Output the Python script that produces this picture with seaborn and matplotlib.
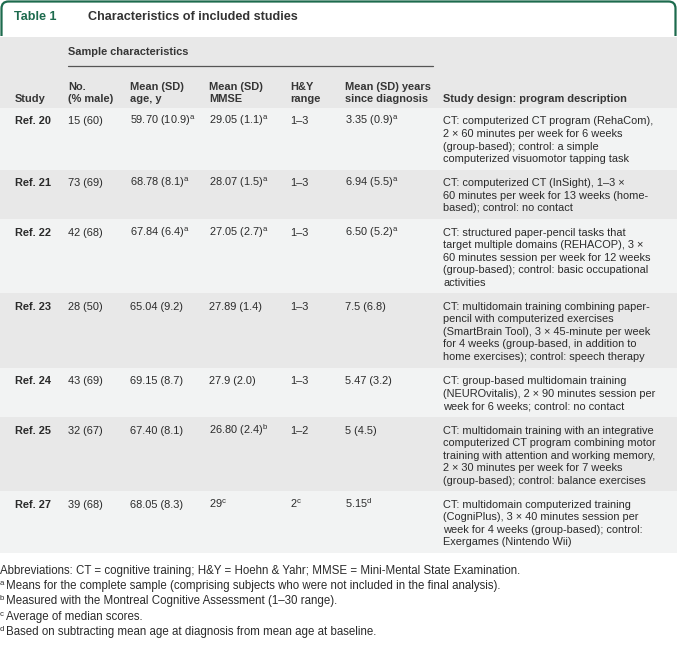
import matplotlib
matplotlib.use("Agg")
import matplotlib.pyplot as plt
from matplotlib.path import Path
from matplotlib.patches import PathPatch
import seaborn as sns

# ---- table content ----
studies = ["Ref. 20", "Ref. 21", "Ref. 22", "Ref. 23", "Ref. 24", "Ref. 25", "Ref. 27"]
n_male = ["15 (60)", "73 (69)", "42 (68)", "28 (50)", "43 (69)", "32 (67)", "39 (68)"]
age = ["59.70 (10.9)^a", "68.78 (8.1)^a", "67.84 (6.4)^a", "65.04 (9.2)",
       "69.15 (8.7)", "67.40 (8.1)", "68.05 (8.3)"]
mmse = ["29.05 (1.1)^a", "28.07 (1.5)^a", "27.05 (2.7)^a", "27.89 (1.4)",
        "27.9 (2.0)", "26.80 (2.4)^b", "29^c"]
hy_range = ["1–3", "1–3", "1–3", "1–3", "1–3", "1–2", "2^c"]
years = ["3.35 (0.9)^a", "6.94 (5.5)^a", "6.50 (5.2)^a", "7.5 (6.8)",
         "5.47 (3.2)", "5 (4.5)", "5.15^d"]
design = [
    ["CT: computerized CT program (RehaCom),",
     "2 × 60 minutes per week for 6 weeks",
     "(group-based); control: a simple",
     "computerized visuomotor tapping task"],
    ["CT: computerized CT (InSight), 1–3 ×",
     "60 minutes per week for 13 weeks (home-",
     "based); control: no contact"],
    ["CT: structured paper-pencil tasks that",
     "target multiple domains (REHACOP), 3 ×",
     "60 minutes session per week for 12 weeks",
     "(group-based); control: basic occupational",
     "activities"],
    ["CT: multidomain training combining paper-",
     "pencil with computerized exercises",
     "(SmartBrain Tool), 3 × 45-minute per week",
     "for 4 weeks (group-based, in addition to",
     "home exercises); control: speech therapy"],
    ["CT: group-based multidomain training",
     "(NEUROvitalis), 2 × 90 minutes session per",
     "week for 6 weeks; control: no contact"],
    ["CT: multidomain training with an integrative",
     "computerized CT program combining motor",
     "training with attention and working memory,",
     "2 × 30 minutes per week for 7 weeks",
     "(group-based); control: balance exercises"],
    ["CT: multidomain computerized training",
     "(CogniPlus), 3 × 40 minutes session per",
     "week for 4 weeks (group-based); control:",
     "Exergames (Nintendo Wii)"],
]
headers = [["", "Study"], ["No.", "(% male)"], ["Mean (SD)", "age, y"],
           ["Mean (SD)", "MMSE"], ["H&Y", "range"],
           ["Mean (SD) years", "since diagnosis"],
           ["", "Study design: program description"]]
note_marks = ["", "a", "b", "c", "d"]
notes = [
    "Abbreviations: CT = cognitive training; H&Y = Hoehn & Yahr; MMSE = Mini-Mental State Examination.",
    "Means for the complete sample (comprising subjects who were not included in the final analysis).",
    "Measured with the Montreal Cognitive Assessment (1–30 range).",
    "Average of median scores.",
    "Based on subtracting mean age at diagnosis from mean age at baseline.",
]

# ---- style ----
sns.set_theme(style="white")
plt.rcParams["font.family"] = ["Liberation Sans", "DejaVu Sans"]
plt.rcParams["mathtext.fontset"] = "custom"
plt.rcParams["mathtext.rm"] = "Liberation Sans"
plt.rcParams["mathtext.it"] = "Liberation Sans:italic"
plt.rcParams["mathtext.bf"] = "Liberation Sans:bold"

GREEN = "#1d6b4e"
TEXT = "#2b2b2b"
HEAD_TEXT = "#363636"
HEAD_BG = "#e8e8e8"
ROW_BG = ["#f2f3f3", "#e8e8e8"]

col_x = [15, 68, 130, 209, 290, 345, 443]
LINE_H = 12.5
ROW_PAD = 11.8
BODY_SIZE = 7.95


def sup(s):
    if "^" in s:
        base, mark = s.split("^", 1)
        return base + r"$^{\mathrm{" + mark + "}}$"
    return s


fig = plt.figure(figsize=(6.77, 6.45), dpi=100)
ax = fig.add_axes([0, 0, 1, 1])
ax.set_xlim(0, 677)
ax.set_ylim(645, 0)
ax.axis("off")

# green rounded frame around title
r = 7
x0, x1, yt, yb = 1.5, 675.5, 1.5, 36
verts = [(x0, yb), (x0, yt + r), (x0, yt), (x0 + r, yt), (x1 - r, yt),
         (x1, yt), (x1, yt + r), (x1, yb)]
codes = [Path.MOVETO, Path.LINETO, Path.CURVE3, Path.CURVE3, Path.LINETO,
         Path.CURVE3, Path.CURVE3, Path.LINETO]
ax.add_patch(PathPatch(Path(verts, codes), fill=False, edgecolor=GREEN, lw=1.6))
ax.text(14, 17.5, "Table 1", color=GREEN, fontsize=9.1, fontweight="bold", va="center")
ax.text(88, 17.5, "Characteristics of included studies", color="#333333",
        fontsize=9.1, fontweight="bold", va="center")

# header
ax.axhspan(37, 108, color=HEAD_BG, lw=0)
ax.text(col_x[1], 52, "Sample characteristics", color=HEAD_TEXT, fontsize=BODY_SIZE,
        fontweight="bold", va="center")
ax.plot([col_x[1], 433], [65.5, 65.5], color="#555555", lw=0.9)
for x, (l1, l2) in zip(col_x, headers):
    if l1:
        ax.text(x, 90, l1, color=HEAD_TEXT, fontsize=BODY_SIZE, fontweight="bold",
                va="baseline")
    ax.text(x, 102, l2, color=HEAD_TEXT, fontsize=BODY_SIZE, fontweight="bold",
            va="baseline")

# body rows
top = 108
for i in range(len(studies)):
    n_lines = len(design[i])
    h = n_lines * LINE_H + ROW_PAD
    ax.axhspan(top, top + h, color=ROW_BG[i % 2], lw=0)
    base = top + 16.5
    cells = [studies[i], n_male[i], age[i], mmse[i], hy_range[i], years[i]]
    for j, cell in enumerate(cells):
        ax.text(col_x[j], base, sup(cell), color=TEXT, fontsize=BODY_SIZE,
                fontweight="bold" if j == 0 else "normal", va="baseline")
    for k, line in enumerate(design[i]):
        ax.text(col_x[6], base + k * LINE_H, line, color=TEXT, fontsize=BODY_SIZE,
                va="baseline")
    top += h

# footnotes
for k, (mark, note) in enumerate(zip(note_marks, notes)):
    yb_note = 574 + k * 15.2
    if mark:
        ax.text(0, yb_note - 4, mark, color=TEXT, fontsize=5.6, va="baseline")
        ax.text(5.5, yb_note, note, color=TEXT, fontsize=8.3, va="baseline")
    else:
        ax.text(0, yb_note, note, color=TEXT, fontsize=8.3, va="baseline")

fig.savefig("out.png", dpi=100)
